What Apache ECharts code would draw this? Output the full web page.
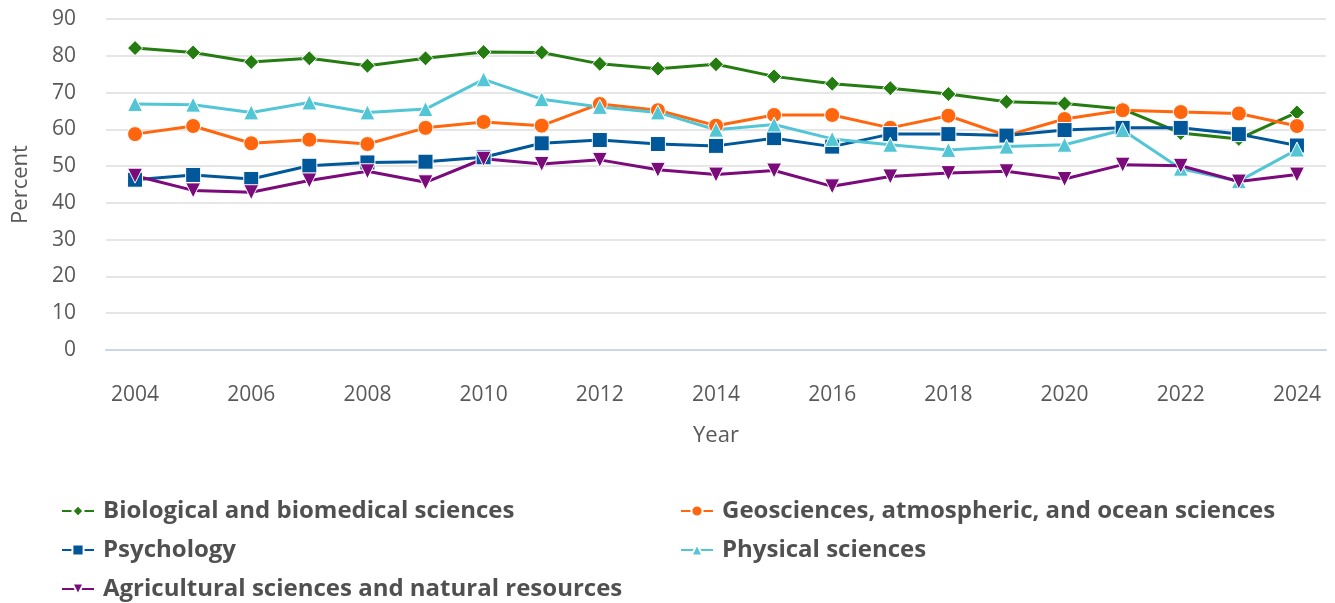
<!DOCTYPE html>
<html lang="en">

<head>
    <meta charset="UTF-8">
    <title>Percent by field, 2004-2024</title>
    <style>
        html, body { margin: 0; padding: 0; background: #fff; }
        #chart { width: 1335px; height: 603px; }
    </style>
</head>

<body>
    <div id="chart"></div>

    <script src="https://cdn.jsdelivr.net/npm/echarts@6/dist/echarts.min.js"></script>
    <script>
        var years = ['2004', '2005', '2006', '2007', '2008', '2009', '2010', '2011', '2012', '2013', '2014',
            '2015', '2016', '2017', '2018', '2019', '2020', '2021', '2022', '2023', '2024'];
        var yTicks = [0, 10, 20, 30, 40, 50, 60, 70, 80, 90];

        var biological = [82.1, 80.9, 78.3, 79.3, 77.3, 79.3, 81.0, 80.9, 77.8, 76.5, 77.7,
            74.4, 72.4, 71.2, 69.6, 67.5, 67.0, 65.5, 59.0, 57.4, 64.6];
        var geosciences = [58.7, 60.9, 56.2, 57.2, 56.0, 60.4, 62.0, 61.0, 66.9, 65.2, 61.0,
            63.9, 63.9, 60.4, 63.7, 58.3, 62.8, 65.2, 64.7, 64.3, 60.9];
        var psychology = [46.3, 47.6, 46.5, 50.1, 51.0, 51.2, 52.4, 56.2, 57.1, 56.0, 55.5,
            57.6, 55.3, 58.7, 58.7, 58.3, 59.8, 60.4, 60.4, 58.7, 55.6];
        var physical = [66.9, 66.7, 64.6, 67.3, 64.6, 65.5, 73.6, 68.2, 66.1, 64.6, 59.9,
            61.3, 57.4, 55.8, 54.4, 55.3, 55.8, 59.8, 49.3, 45.9, 54.5];
        var agricultural = [47.4, 43.4, 42.9, 46.1, 48.6, 45.6, 52.0, 50.6, 51.7, 49.0, 47.7,
            48.8, 44.5, 47.2, 48.1, 48.6, 46.5, 50.4, 50.1, 45.8, 47.7];

        var names = {
            bio: 'Biological and biomedical sciences',
            geo: 'Geosciences, atmospheric, and ocean sciences',
            psy: 'Psychology',
            phy: 'Physical sciences',
            agr: 'Agricultural sciences and natural resources'
        };

        var font = '"Open Sans", "Noto Sans", sans-serif';

        function makeSeries(name, data, color, symbol, size) {
            return {
                name: name,
                type: 'line',
                data: data,
                symbol: symbol,
                symbolSize: size,
                showAllSymbol: true,
                itemStyle: { color: color, borderColor: '#ffffff', borderWidth: 1 },
                lineStyle: { color: color, width: 3 },
                emphasis: { disabled: true }
            };
        }

        // one legend block per column, rows ~40px apart
        function legendColumn(left, items) {
            return {
                type: 'plain',
                left: left,
                top: 499,
                padding: 0,
                orient: 'vertical',
                itemWidth: 32,
                itemHeight: 14,
                itemGap: 15,
                textStyle: {
                    fontFamily: font,
                    fontSize: 24,
                    fontWeight: 'bold',
                    color: '#505050',
                    padding: [0, 0, 0, 4]
                },
                data: items
            };
        }

        var chart = echarts.init(document.getElementById('chart'));

        chart.setOption({
            animation: false,
            grid: { left: 106, right: 9, top: 19, bottom: 253, containLabel: false },
            legend: [
                legendColumn(61, [names.bio, names.psy, names.agr]),
                legendColumn(680, [names.geo, names.phy])
            ],
            xAxis: {
                type: 'category',
                data: years,
                boundaryGap: true,
                name: 'Year',
                nameLocation: 'middle',
                nameGap: 75,
                nameTextStyle: { fontFamily: font, fontSize: 22, color: '#595959' },
                axisLine: { lineStyle: { color: '#ccd6eb', width: 2 } },
                axisTick: { alignWithLabel: true, interval: 1, length: 18, lineStyle: { color: '#ccd6eb', width: 2 } },
                axisLabel: { interval: 1, margin: 35, fontFamily: font, fontSize: 21, color: '#595959' },
                splitLine: { show: false }
            },
            yAxis: {
                type: 'value',
                min: yTicks[0],
                max: yTicks[yTicks.length - 1],
                interval: 10,
                name: 'Percent',
                nameLocation: 'middle',
                nameGap: 74,
                nameTextStyle: { fontFamily: font, fontSize: 22, color: '#595959' },
                axisLine: { show: false },
                axisTick: { show: false },
                axisLabel: { margin: 30, fontFamily: font, fontSize: 21, color: '#595959' },
                splitLine: { lineStyle: { color: '#e6e6e6', width: 2 } }
            },
            series: [
                makeSeries(names.bio, biological, '#257d12', 'diamond', 15),
                makeSeries(names.geo, geosciences, '#ff660e', 'circle', 15),
                makeSeries(names.psy, psychology, '#00579a', 'rect', 15),
                makeSeries(names.phy, physical, '#53c6d6', 'triangle', 15),
                makeSeries(names.agr, agricultural, '#7b0a7b', 'path://M0,0 L10,0 L5,10 Z', 15)
            ]
        });
    </script>
</body>

</html>
